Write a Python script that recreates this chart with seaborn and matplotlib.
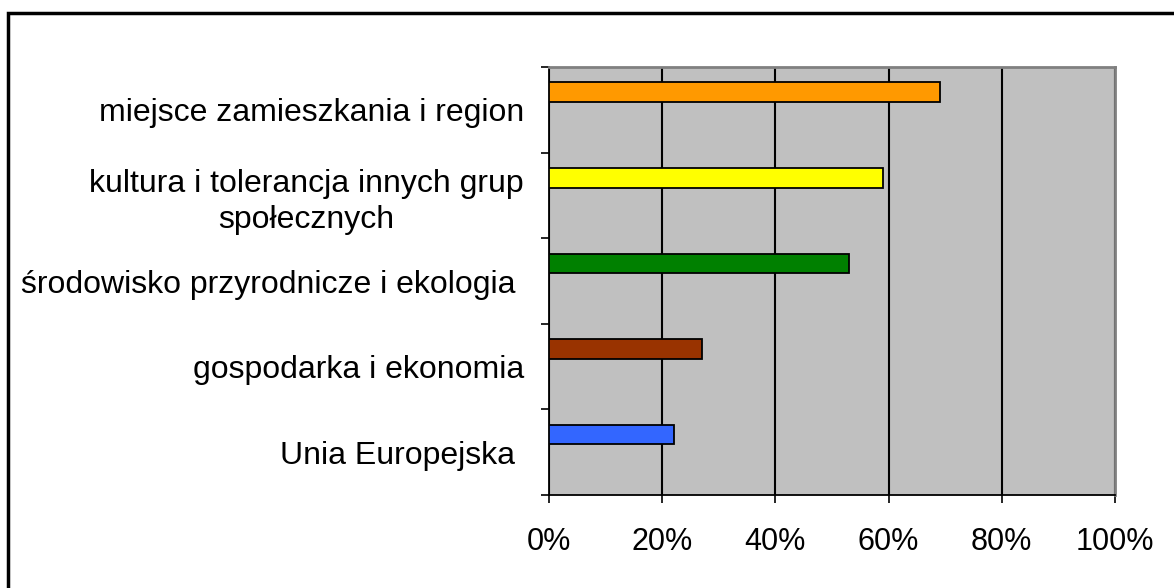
import numpy as np
import pandas as pd
import matplotlib
matplotlib.use("Agg")
import matplotlib.pyplot as plt
import seaborn as sns
from matplotlib.patches import Rectangle
from matplotlib.ticker import PercentFormatter, FixedLocator

# dane
kategorie = [
    "miejsce zamieszkania i region",
    "kultura i tolerancja innych grup\nspołecznych",
    "środowisko przyrodnicze i ekologia ",
    "gospodarka i ekonomia",
    "Unia Europejska ",
]
wartosci = [69, 59, 53, 27, 22]
kolory = ["#FF9900", "#FFFF00", "#008000", "#993300", "#3366FF"]

df = pd.DataFrame({"kategoria": kategorie, "procent": wartosci})

sns.set_style("white")
plt.rcParams["font.family"] = ["Liberation Sans", "DejaVu Sans"]
plt.rcParams["text.color"] = "black"
plt.rcParams["xtick.color"] = "black"
plt.rcParams["ytick.color"] = "black"

fig = plt.figure(figsize=(11.74, 5.88), dpi=100)
ax = fig.add_axes([549 / 1174, (588 - 495) / 588, (1115 - 549) / 1174, (495 - 67) / 588])

sns.barplot(data=df, x="procent", y="kategoria", hue="kategoria", palette=kolory,
            saturation=1, orient="h", width=0.23, edgecolor="black", linewidth=1.3,
            legend=False, ax=ax, zorder=3)

# słupki przesunięte w górę w obrębie kategorii (jak w Excelu)
for p in ax.patches:
    p.set_y(p.get_y() - 0.205)

ax.set_facecolor("#C0C0C0")
ax.set_xlim(0, 100)
ax.set_ylim(4.5, -0.5)
ax.set_xticks(np.arange(0, 101, 20))
ax.xaxis.set_major_formatter(PercentFormatter(decimals=0))
ax.grid(axis="x", color="black", linewidth=1.5, zorder=1)
ax.grid(axis="y", visible=False)
ax.set_axisbelow(True)
ax.set_xlabel("")
ax.set_ylabel("")

ax.yaxis.set_minor_locator(FixedLocator(np.arange(-0.5, 5, 1)))
ax.tick_params(axis="y", which="major", length=0, pad=18, labelsize=23,
               labelcolor="black")
ax.tick_params(axis="y", which="minor", length=6, width=1.2, color="black", left=True)
ax.tick_params(axis="x", which="major", length=6, width=1.2, color="black",
               bottom=True, pad=17, labelsize=22, labelcolor="black")
for t in ax.get_yticklabels():
    t.set_multialignment("center")
    t.set_linespacing(1.25)

for s in ["left", "bottom"]:
    ax.spines[s].set_color("black")
    ax.spines[s].set_linewidth(1.3)
for s in ["top", "right"]:
    ax.spines[s].set_color("#808080")
    ax.spines[s].set_linewidth(2)

# ramka wykresu
fig.patches.append(Rectangle((8 / 1174, -0.1), 1.2, (588 - 13) / 588 + 0.1,
                             transform=fig.transFigure, fill=False,
                             edgecolor="black", linewidth=2.5))

fig.savefig("out.png", dpi=100, facecolor="white")
